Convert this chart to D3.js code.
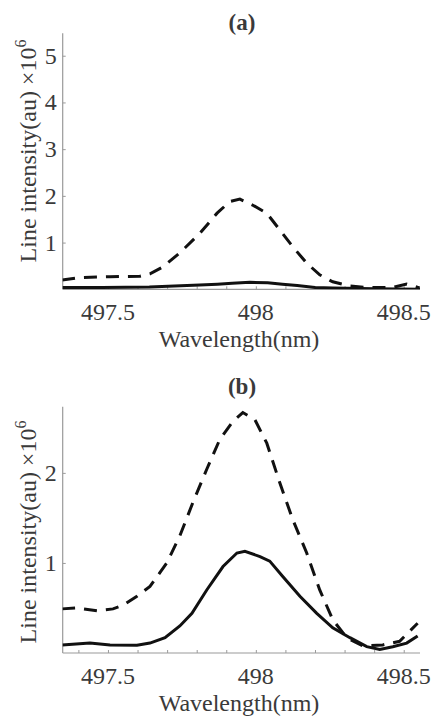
<!DOCTYPE html>
<html>
<head>
<meta charset="utf-8">
<script src="https://cdn.jsdelivr.net/npm/d3@7"></script>
<style>
  body { margin: 0; background: #fff; }
  svg { display: block; }
  text { font-family: "Liberation Serif", "Times New Roman", serif; fill: #3a3a3a; }
</style>
</head>
<body>
<div id="chart"></div>
<script>
// panel (a)
const wlA_dash = [497.345, 497.405, 497.507, 497.608, 497.642, 497.686, 497.743, 497.811, 497.869, 497.912, 497.946, 497.990, 498.037, 498.081, 498.125, 498.172, 498.216, 498.260, 498.318, 498.375, 498.463, 498.510, 498.554]
const intA_dash = [0.20, 0.25, 0.27, 0.28, 0.33, 0.48, 0.78, 1.20, 1.63, 1.88, 1.93, 1.80, 1.63, 1.27, 0.91, 0.56, 0.31, 0.16, 0.07, 0.04, 0.04, 0.11, 0.03]
const wlA_solid = [497.345, 497.48, 497.64, 497.81, 497.87, 497.92, 497.98, 498.04, 498.09, 498.14, 498.20, 498.26, 498.40, 498.555]
const intA_solid = [0.04, 0.04, 0.05, 0.09, 0.11, 0.13, 0.15, 0.14, 0.11, 0.08, 0.04, 0.03, 0.01, 0.0]

// panel (b)
const wlB_dash = [497.345, 497.395, 497.463, 497.517, 497.551, 497.598, 497.642, 497.699, 497.743, 497.787, 497.834, 497.878, 497.922, 497.956, 497.997, 498.037, 498.081, 498.125, 498.172, 498.216, 498.260, 498.307, 498.361, 498.429, 498.486, 498.547]
const intB_dash = [0.49, 0.50, 0.47, 0.49, 0.53, 0.63, 0.74, 1.00, 1.30, 1.67, 2.04, 2.37, 2.57, 2.67, 2.59, 2.33, 1.89, 1.48, 1.11, 0.70, 0.37, 0.17, 0.08, 0.09, 0.13, 0.33]
const wlB_solid = [497.345, 497.439, 497.507, 497.598, 497.642, 497.693, 497.743, 497.784, 497.834, 497.889, 497.936, 497.963, 498.014, 498.047, 498.091, 498.149, 498.206, 498.260, 498.318, 498.375, 498.419, 498.463, 498.510, 498.547]
const intB_solid = [0.09, 0.11, 0.09, 0.085, 0.11, 0.17, 0.30, 0.44, 0.70, 0.96, 1.11, 1.13, 1.07, 1.02, 0.85, 0.63, 0.44, 0.28, 0.17, 0.07, 0.04, 0.07, 0.11, 0.19]

const xTickLabels = [497.5, 498, 498.5]
const xMinorTicks = d3.range(497.4, 498.56, 0.1)
const yTicksA = [1, 2, 3, 4, 5]
const yTicksB = [1, 2]

const width = 433, height = 718

const svg = d3.select("#chart").append("svg")
    .attr("width", width)
    .attr("height", height)

const panel = (opts) => {
    const { top, bottom, yMax, yMin, yTicks, title, titleY, yLabelMid, solid, dashed, id } = opts
    const left = 62.7, right = 420

    const x = d3.scaleLinear().domain([497.347, 498.555]).range([left, right])
    const y = d3.scaleLinear().domain([yMin, yMax]).range([bottom, top])

    const g = svg.append("g")

    g.append("clipPath").attr("id", id)
        .append("rect")
        .attr("x", left).attr("y", top - 5)
        .attr("width", right - left).attr("height", bottom - top + 5)

    // axes: ticks inside, gray lines
    g.append("g")
        .attr("transform", `translate(0,${bottom})`)
        .call(d3.axisTop(x).tickValues(xMinorTicks).tickSize(3).tickFormat(""))
        .call(a => a.select(".domain").attr("stroke", "#9a9a9a").attr("stroke-width", 1.2).attr("d", `M${left},0H${right}`))
        .call(a => a.selectAll(".tick line").attr("stroke", "#9a9a9a"))

    g.append("g")
        .attr("transform", `translate(${left},0)`)
        .call(d3.axisRight(y).tickValues(yTicks).tickSize(3).tickFormat(""))
        .call(a => a.select(".domain").attr("stroke", "#9a9a9a").attr("stroke-width", 1.2).attr("d", `M0,${bottom}V${top}`))
        .call(a => a.selectAll(".tick line").attr("stroke", "#9a9a9a"))

    // tick labels
    g.selectAll(".xlab").data(xTickLabels).join("text")
        .attr("x", d => x(d))
        .attr("y", bottom + 31)
        .attr("text-anchor", "middle")
        .attr("font-size", 24)
        .text(d => d)

    g.selectAll(".ylab").data(yTicks).join("text")
        .attr("x", left - 6)
        .attr("y", d => y(d) + 8)
        .attr("text-anchor", "end")
        .attr("font-size", 24)
        .text(d => d)

    // axis titles
    g.append("text")
        .attr("x", 239)
        .attr("y", bottom + 58)
        .attr("text-anchor", "middle")
        .attr("font-size", 24)
        .text("Wavelength(nm)")

    const yl = g.append("text")
        .attr("transform", `translate(36,${yLabelMid}) rotate(-90)`)
        .attr("text-anchor", "middle")
        .attr("font-size", 24)
    yl.append("tspan").text("Line intensity(au) ×10")
    yl.append("tspan").attr("font-size", 16).attr("dy", -10).text("6")

    g.append("text")
        .attr("x", 242)
        .attr("y", titleY)
        .attr("text-anchor", "middle")
        .attr("font-size", 23)
        .attr("font-weight", "bold")
        .attr("fill", "#222")
        .text(title)

    const line = d3.line().x(d => x(d[0])).y(d => y(d[1]))

    g.append("path")
        .datum(d3.zip(dashed[0], dashed[1]))
        .attr("clip-path", `url(#${id})`)
        .attr("fill", "none")
        .attr("stroke", "#111")
        .attr("stroke-width", 3)
        .attr("stroke-dasharray", "13,9")
        .attr("d", line)

    g.append("path")
        .datum(d3.zip(solid[0], solid[1]))
        .attr("clip-path", `url(#${id})`)
        .attr("fill", "none")
        .attr("stroke", "#111")
        .attr("stroke-width", 3)
        .attr("d", line)
}

panel({ id: "clipA", top: 33.3, bottom: 289.3, yMin: 0, yMax: 5.48, yTicks: yTicksA, title: "(a)",
    titleY: 30, yLabelMid: 151,
    dashed: [wlA_dash, intA_dash], solid: [wlA_solid, intA_solid] })

panel({ id: "clipB", top: 406.7, bottom: 653, yMin: 0, yMax: 2.735, yTicks: yTicksB, title: "(b)",
    titleY: 394, yLabelMid: 532,
    dashed: [wlB_dash, intB_dash], solid: [wlB_solid, intB_solid] })
</script>
</body>
</html>
